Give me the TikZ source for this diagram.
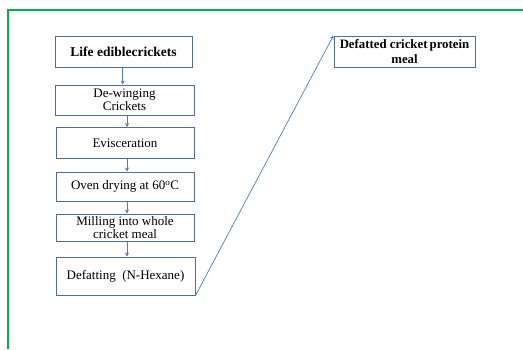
\documentclass[tikz,border=0pt]{standalone}
\usepackage{fontspec}
\setmainfont{Liberation Serif}
\usetikzlibrary{arrows.meta}
\definecolor{boxline}{RGB}{79,110,154}
\definecolor{flowline}{RGB}{74,126,187}
\definecolor{frameline}{RGB}{0,176,80}
\begin{document}
\begin{tikzpicture} %flow chart
		[x=1pt,y=-1pt,
		 box/.style={draw=boxline,line width=1pt,align=center,inner sep=1pt,
		   font=\fontsize{13}{13.5}\selectfont},
		 boldbox/.style={box,font=\fontsize{13.5}{14}\selectfont\bfseries},
		 flow/.style={flowline,line width=0.7pt,-{Stealth[length=4pt,width=4pt]}}]
	\useasboundingbox (0,0) rectangle (523,349);
	%green frame at top and left
	\draw[frameline,line width=1.2pt] (523,10) -- (8,10) -- (8,349);

	%the steps
	\node[boldbox,minimum width=137pt,minimum height=31pt] (b1) at (123.5,51.5) {Life ediblecrickets};
	\node[box,minimum width=139pt,minimum height=30pt] (b2) at (124.5,100) {De-winging\\Crickets};
	\node[box,minimum width=138pt,minimum height=31pt] (b3) at (125,143) {Evisceration};
	\node[box,minimum width=138pt,minimum height=29pt] (b4) at (125,186.5) {Oven drying at 60$^{\mathrm{o}}$C};
	\node[box,minimum width=138pt,minimum height=27pt] (b5) at (125,227.5) {Milling into whole\\cricket meal};
	\node[box,minimum width=139pt,minimum height=38pt] (b6) at (125.5,276) {Defatting\ \ (N-Hexane)};
	\node[boldbox,font=\fontsize{12.8}{15}\selectfont\bfseries,minimum width=141pt,minimum height=31pt] (b7) at (404.5,51.5) {Defatted cricket\,protein\\meal};

	%arrows between the steps
	\draw[flow] ([xshift=-0.8pt]b1.south) -- ([xshift=-0.8pt]b1.south |- b2.north);
	\draw[flow] ([xshift=2.5pt]b2.south) -- ([xshift=2.5pt]b2.south |- b3.north);
	\draw[flow] ([xshift=2pt]b3.south) -- ([xshift=2pt]b3.south |- b4.north);
	\draw[flow] ([xshift=2pt]b4.south) -- ([xshift=2pt]b4.south |- b5.north);
	\draw[flow] ([xshift=2pt]b5.south) -- ([xshift=2pt]b5.south |- b6.north);
	\draw[flow] (b6.south east) -- (b7.north west);
\end{tikzpicture}
\end{document}
